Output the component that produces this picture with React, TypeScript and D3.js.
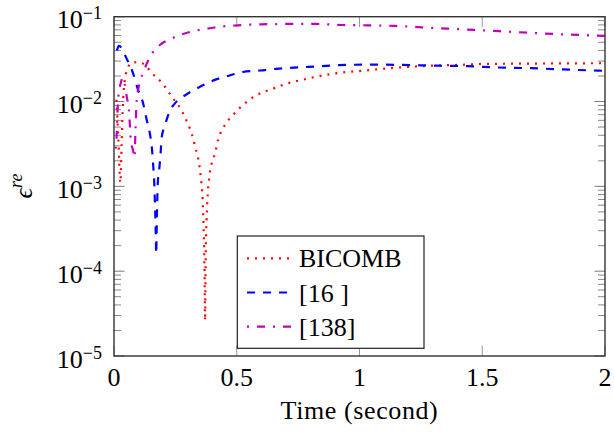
import React from "react";
import * as d3 from "d3";

const xTicks = [0, 0.5, 1, 1.5, 2];
const xTickLabels = ["0", "0.5", "1", "1.5", "2"];
const yExponents = [-1, -2, -3, -4, -5];

const redT = [0.01, 0.018, 0.026, 0.031, 0.035, 0.04, 0.046, 0.055, 0.07, 0.1, 0.13, 0.151, 0.197, 0.235, 0.255, 0.272, 0.286, 0.3, 0.312, 0.323, 0.33, 0.339, 0.346, 0.35, 0.354, 0.357, 0.36, 0.3625, 0.365, 0.367, 0.369, 0.371, 0.373, 0.375, 0.377, 0.379, 0.38, 0.382, 0.384, 0.388, 0.392, 0.399, 0.411, 0.425, 0.452, 0.473, 0.496, 0.517, 0.543, 0.572, 0.629, 0.66, 0.69, 0.721, 0.754, 0.785, 0.816, 0.847, 0.88, 0.944, 1.009, 1.073, 1.138, 1.2, 1.3, 1.4, 1.5, 1.7, 2.0];
const redV = [0.0105, 0.0035, 0.0011, 0.003, 0.0075, 0.014, 0.0195, 0.0243, 0.0286, 0.0291, 0.0263, 0.0222, 0.0164, 0.01146, 0.00957, 0.00815, 0.0068, 0.00557, 0.00452, 0.0036, 0.00296, 0.0024, 0.0019, 0.00158, 0.00126, 0.00102, 0.00082, 0.00054, 0.00033, 0.00019, 0.00008, 0.000026, 0.00011, 0.00026, 0.0004, 0.00054, 0.00067, 0.00082, 0.00102, 0.00126, 0.00158, 0.00191, 0.00243, 0.0036, 0.0053, 0.0064, 0.0075, 0.0087, 0.01, 0.0115, 0.0136, 0.0146, 0.0158, 0.0168, 0.0177, 0.0185, 0.0194, 0.0202, 0.021, 0.0222, 0.023, 0.024, 0.0249, 0.0256, 0.0265, 0.027, 0.0277, 0.028, 0.0283];

const blueT = [0.012, 0.02, 0.052, 0.077, 0.098, 0.118, 0.133, 0.147, 0.155, 0.16, 0.164, 0.166, 0.168, 0.17, 0.172, 0.174, 0.1764, 0.178, 0.1845, 0.19, 0.194, 0.204, 0.216, 0.228, 0.248, 0.281, 0.35, 0.411, 0.464, 0.525, 0.595, 0.66, 0.79, 0.917, 1.043, 1.177, 1.308, 1.438, 1.564, 1.699, 1.829, 1.955, 2.0];
const blueV = [0.04, 0.0452, 0.0318, 0.0218, 0.01375, 0.00966, 0.0061, 0.00406, 0.0027, 0.0017, 0.00111, 0.00074, 0.00049, 0.00029, 0.00016, 0.00035, 0.0007, 0.00105, 0.00162, 0.00249, 0.00374, 0.0049, 0.0063, 0.0078, 0.0095, 0.01135, 0.0149, 0.018, 0.02, 0.0223, 0.0232, 0.0243, 0.0256, 0.0268, 0.0273, 0.027, 0.0265, 0.0261, 0.0252, 0.0247, 0.0239, 0.0232, 0.023];

const magT = [0.007, 0.011, 0.015, 0.018, 0.027, 0.035, 0.052, 0.062, 0.065, 0.069, 0.077, 0.0835, 0.0876, 0.0925, 0.0998, 0.106, 0.123, 0.149, 0.187, 0.228, 0.281, 0.33, 0.391, 0.44, 0.493, 0.546, 0.603, 0.709, 0.819, 0.929, 1.035, 1.145, 1.253, 1.359, 1.468, 1.576, 1.685, 1.794, 1.902, 2.0];
const magV = [0.00278, 0.00407, 0.00843, 0.01167, 0.0162, 0.019, 0.01135, 0.00716, 0.00504, 0.00336, 0.0027, 0.00218, 0.00465, 0.0105, 0.0145, 0.0171, 0.0236, 0.0345, 0.0464, 0.0542, 0.0625, 0.0684, 0.0731, 0.0767, 0.0787, 0.0805, 0.0814, 0.0821, 0.0821, 0.0798, 0.0792, 0.0778, 0.075, 0.0723, 0.0698, 0.0673, 0.0648, 0.0625, 0.0609, 0.0593];

const legendLabels = ["BICOMB", "[16 ]", "[138]"];

const W = 614, H = 438;
const L = 114, R = 605, T = 16.7, B = 356;
const FONT = "'Liberation Serif', 'Times New Roman', serif";

export default function App() {
  const x = d3.scaleLinear().domain([0, 2]).range([L, R]);
  const y = d3.scaleLog().domain([1e-5, 1e-1]).range([B, T]);
  const line = d3
    .line<[number, number]>()
    .x((d) => x(d[0]))
    .y((d) => y(d[1]))
    .curve(d3.curveMonotoneX);

  const series = [
    { t: redT, v: redV, color: "#ff0000", dash: "2,6" },
    { t: blueT, v: blueV, color: "#0000ff", dash: "8,8" },
    { t: magT, v: magV, color: "#bf00bf", dash: "2,8,8,8" },
  ];

  const minor: number[] = [];
  for (let e = -5; e < -1; e++) {
    for (let m = 2; m <= 9; m++) minor.push(m * Math.pow(10, e));
  }

  return (
    <svg
      width={W}
      height={H}
      style={{ position: "absolute", left: 0, top: 0, background: "#fff" }}
      fontFamily={FONT}
    >
      <defs>
        <clipPath id="plotclip">
          <rect x={L} y={T} width={R - L} height={B - T} />
        </clipPath>
      </defs>
      {minor.map((v, i) => (
        <g key={"mn" + i} stroke="#888" strokeWidth={1}>
          <line x1={L} x2={L + 7} y1={y(v)} y2={y(v)} />
          <line x1={R} x2={R - 7} y1={y(v)} y2={y(v)} />
        </g>
      ))}
      {yExponents.map((e) => (
        <g key={"mj" + e} stroke="#777" strokeWidth={1}>
          <line x1={L} x2={L + 10.5} y1={y(Math.pow(10, e))} y2={y(Math.pow(10, e))} />
          <line x1={R} x2={R - 10.5} y1={y(Math.pow(10, e))} y2={y(Math.pow(10, e))} />
        </g>
      ))}
      {xTicks.map((t) => (
        <g key={"xt" + t} stroke="#999" strokeWidth={1}>
          <line x1={x(t)} x2={x(t)} y1={B} y2={B - 10.5} />
          <line x1={x(t)} x2={x(t)} y1={T} y2={T + 10.5} />
        </g>
      ))}
      <g clipPath="url(#plotclip)">
        {series.map((s, i) => (
          <path
            key={"s" + i}
            d={line(s.t.map((t, j) => [t, s.v[j]] as [number, number])) || ""}
            fill="none"
            stroke={s.color}
            strokeWidth={2.2}
            strokeDasharray={s.dash}
          />
        ))}
      </g>
      <rect x={L} y={T} width={R - L} height={B - T} fill="none" stroke="#333" strokeWidth={1.4} />
      {xTicks.map((t, i) => (
        <text key={"xl" + t} x={x(t)} y={386} textAnchor="middle" fontSize={26} fill="#000">
          {xTickLabels[i]}
        </text>
      ))}
      {yExponents.map((e) => {
        const yy = y(Math.pow(10, e));
        return (
          <text key={"yl" + e} x={102} y={yy + 11.5} textAnchor="end" fontSize={26} fill="#000">
            10
            <tspan fontSize={18} dy={-9}>{"\u2212" + Math.abs(e)}</tspan>
          </text>
        );
      })}
      <text x={(L + R) / 2} y={419} textAnchor="middle" fontSize={26} letterSpacing={0.6} fill="#000">
        Time (second)
      </text>
      <text transform="translate(32,186) rotate(-90)" textAnchor="middle" fontSize={26} fill="#000">
        <tspan fontStyle="italic">{"\u03f5"}</tspan>
        <tspan fontStyle="italic" fontSize={18} dy={-10}>re</tspan>
      </text>
      <g>
        <rect x={237.3} y={236} width={186.7} height={112.3} fill="#fff" stroke="#222" strokeWidth={1.2} />
        {series.map((s, i) => {
          const ry = 258.3 + i * 34.2;
          return (
            <g key={"lg" + i}>
              <line x1={247} x2={291} y1={ry} y2={ry} stroke={s.color} strokeWidth={2.2} strokeDasharray={s.dash} />
              <text x={299} y={ry + 9} fontSize={26} fill="#000">
                {legendLabels[i]}
              </text>
            </g>
          );
        })}
      </g>
    </svg>
  );
}
